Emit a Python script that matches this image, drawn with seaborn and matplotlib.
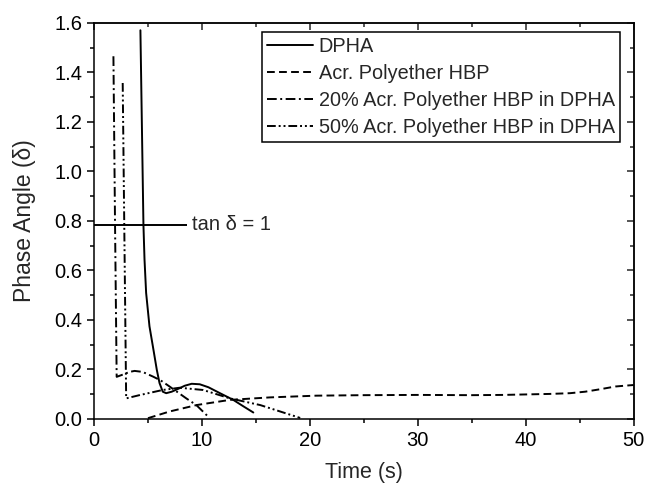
import numpy as np
import pandas as pd
import matplotlib
matplotlib.use("Agg")
import matplotlib.pyplot as plt
import seaborn as sns
from matplotlib.ticker import MultipleLocator

# Data (time in s, phase angle)
dpha_t = [4.3, 4.58, 4.68, 4.83, 5.14, 5.51, 5.82, 6.07, 6.37, 6.69, 7.2, 7.82, 8.4, 9.05, 9.8, 10.6, 11.67, 12.9, 13.8, 14.76]
dpha_y = [1.57, 0.785, 0.644, 0.509, 0.374, 0.279, 0.198, 0.145, 0.11, 0.104, 0.11, 0.122, 0.134, 0.142, 0.14, 0.128, 0.104, 0.077, 0.052, 0.026]

hbp_t = [5.0, 7.0, 9.5, 12.6, 16.3, 20.6, 25.0, 30.0, 35.0, 37.9, 42.2, 44.1, 45.5, 46.9, 48.3, 49.4, 50.0]
hbp_y = [0.003, 0.03, 0.056, 0.077, 0.087, 0.094, 0.096, 0.097, 0.096, 0.097, 0.101, 0.104, 0.11, 0.12, 0.131, 0.135, 0.137]

mix20_t = [1.8, 1.95, 2.1, 2.6, 3.3, 3.76, 4.5, 5.47, 6.2, 7.0, 8.55, 9.48, 10.7]
mix20_y = [1.465, 0.785, 0.17, 0.178, 0.19, 0.194, 0.19, 0.171, 0.155, 0.131, 0.083, 0.056, 0.004]

mix50_t = [2.66, 2.98, 4.2, 6.37, 7.93, 10.1, 12.6, 15.4, 17.25, 19.1]
mix50_y = [1.357, 0.083, 0.096, 0.117, 0.126, 0.117, 0.083, 0.056, 0.03, 0.004]

labels = ['DPHA', 'Acr. Polyether HBP', '20% Acr. Polyether HBP in DPHA', '50% Acr. Polyether HBP in DPHA']

# tan(delta) = 1 marker line
tan_value = 0.785
tan_line_end = 8.65

sns.set_style("white")
plt.rcParams['font.family'] = ['Liberation Sans', 'DejaVu Sans']

fig = plt.figure(figsize=(6.46, 4.86), dpi=100)
ax = fig.add_axes([0.1455, 0.138, 0.8355, 0.815])

lw = 1.4
styles = ['-', (0, (4, 2.2)), (0, (5, 1.8, 1, 1.8)), (0, (4.5, 1.5, 1, 1.5, 1, 1.5))]
series = [(dpha_t, dpha_y), (hbp_t, hbp_y), (mix20_t, mix20_y), (mix50_t, mix50_y)]

for (t, y), lab, ls in zip(series, labels, styles):
    sns.lineplot(x=t, y=y, ax=ax, color='black', linewidth=lw, linestyle=ls,
                 label=lab, sort=False, estimator=None)

ax.hlines(tan_value, 0, tan_line_end, color='black', linewidth=lw)
ax.text(tan_line_end + 0.45, tan_value, 'tan δ = 1', fontsize=14.5, va='center', ha='left')

ax.set_xlim(0, 50)
ax.set_ylim(0, 1.6)
ax.xaxis.set_major_locator(MultipleLocator(10))
ax.xaxis.set_minor_locator(MultipleLocator(5))
ax.yaxis.set_major_locator(MultipleLocator(0.2))
ax.yaxis.set_minor_locator(MultipleLocator(0.1))
ax.yaxis.set_major_formatter(matplotlib.ticker.FormatStrFormatter('%.1f'))

ax.set_xlabel('Time (s)', fontsize=15.5, labelpad=9)
ax.set_ylabel('Phase Angle (δ)', fontsize=16.5, labelpad=13)

for sp in ax.spines.values():
    sp.set_visible(True)
    sp.set_color('black')
    sp.set_linewidth(1.1)

ax.tick_params(which='both', direction='out', bottom=True, left=True, width=1.1,
               labelsize=14.5, colors='black')
ax.tick_params(which='major', length=5)
ax.tick_params(which='minor', length=3)

# mirrored ticks pointing inward on top and right
top = ax.secondary_xaxis('top')
top.xaxis.set_major_locator(MultipleLocator(10))
top.xaxis.set_minor_locator(MultipleLocator(5))
top.tick_params(which='both', direction='in', labeltop=False, width=1.1)
top.tick_params(which='major', length=5)
top.tick_params(which='minor', length=3)
top.spines['top'].set_linewidth(1.1)

right = ax.secondary_yaxis('right')
right.yaxis.set_major_locator(MultipleLocator(0.2))
right.yaxis.set_minor_locator(MultipleLocator(0.1))
right.tick_params(which='both', direction='in', labelright=False, width=1.1)
right.tick_params(which='major', length=5)
right.tick_params(which='minor', length=3)
right.spines['right'].set_linewidth(1.1)

leg = ax.legend(loc='upper right', bbox_to_anchor=(0.974, 0.977), borderaxespad=0,
                fontsize=14.3, frameon=True, fancybox=False, edgecolor='black',
                handlelength=2.3, handletextpad=0.3, labelspacing=0.4, borderpad=0.25)
leg.get_frame().set_linewidth(1.1)
leg.get_frame().set_alpha(1)

fig.savefig('out.png', dpi=100, facecolor='white')
